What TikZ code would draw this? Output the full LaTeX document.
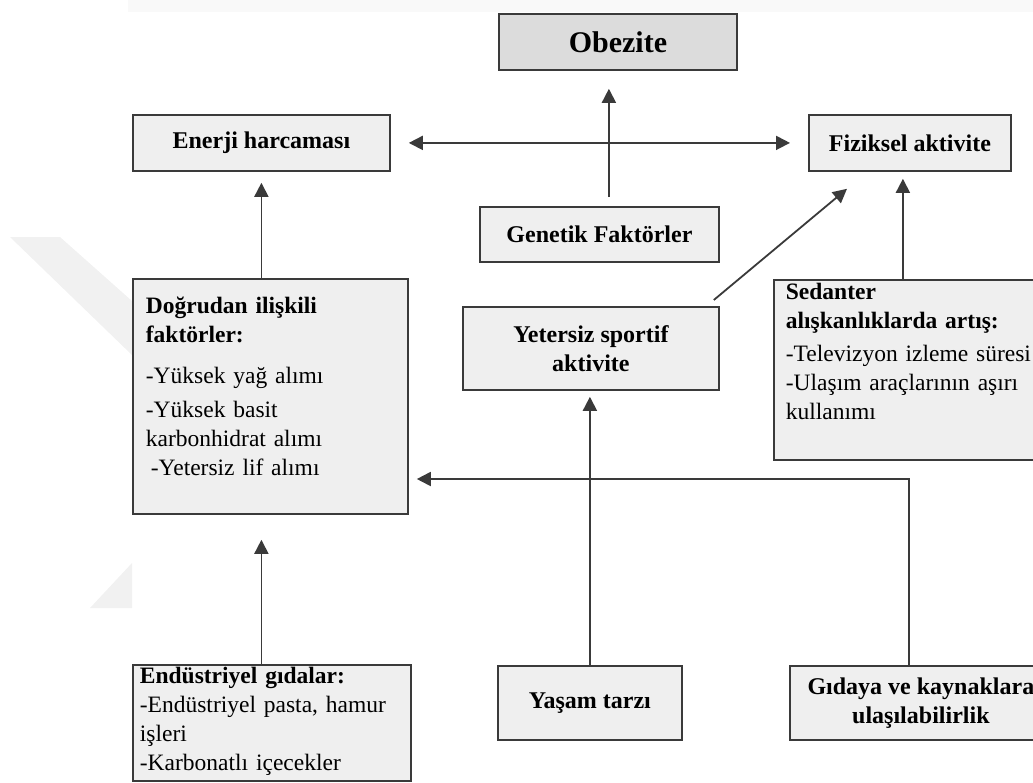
\documentclass[tikz,border=0pt]{standalone}
\usepackage{fontspec}
\setmainfont{Liberation Serif}
\usetikzlibrary{arrows.meta}
\definecolor{boxfill}{HTML}{EFEFEF}
\definecolor{topfill}{HTML}{DCDCDC}
\definecolor{linegray}{HTML}{3A3A3A}
\definecolor{markgray}{HTML}{F1F1F1}

\begin{document}
\begin{tikzpicture}[
            x=1pt,
            y=-1pt,
            box/.style={draw=linegray, line width=1.8pt, fill=boxfill, anchor=north west, align=center, text=black, font=\fontsize{24}{29}\selectfont\bfseries},
            listbox/.style={box, align=left, inner ysep=0pt, font=\fontsize{23.5}{29}\selectfont},
            arr/.style={draw=linegray, line width=1.8pt, >={Triangle[length=14pt,width=14pt]}}
        ]
        \useasboundingbox (0,0) rectangle (1033,782);
        \fill[gray!5] (128,0) rectangle (1033,12);
        \fill[markgray] (10,237) -- (60,237) -- (132,301) -- (132,355) -- cycle;
        \fill[markgray] (132,563) -- (90,608) -- (132,608) -- cycle;

        \node[box, fill=topfill, minimum width=238pt, minimum height=56pt, font=\fontsize{30}{36}\selectfont\bfseries] (obezite) at (498,13) {Obezite};
        \node[box, minimum width=257pt, minimum height=56pt] (enerji) at (132,114) {Enerji harcaması};
        \node[box, minimum width=202pt, minimum height=56pt] (fiziksel) at (808,114) {Fiziksel aktivite};
        \node[box, minimum width=239pt, minimum height=55pt] (genetik) at (479,206) {Genetik Faktörler};
        \node[box, minimum width=256pt, minimum height=83pt] (yetersiz) at (462,306) {Yetersiz sportif\\aktivite};
        \node[box, minimum width=184pt, minimum height=74pt] (yasam) at (497,665) {Yaşam tarzı};
        \node[box, minimum width=262pt, minimum height=74pt] (gidaya) at (789,665) {Gıdaya ve kaynaklara\\ulaşılabilirlik};

        \node[listbox, inner xsep=13pt, text width=249pt, text height=35pt, text depth=200pt] (dogrudan) at (132,278)
            {\textbf{Doğrudan ilişkili}\\\textbf{faktörler:}\\[12pt]-Yüksek yağ alımı\\[5pt]-Yüksek basit\\karbonhidrat alımı\\\hspace*{5pt}-Yetersiz lif alımı};
        \node[listbox, inner xsep=12pt, text width=266pt, text height=20pt, text depth=160pt] (sedanter) at (773,279)
            {\textbf{Sedanter}\\\textbf{alışkanlıklarda artış:}\\[4pt]-Televizyon izleme süresi\\-Ulaşım araçlarının aşırı\\kullanımı};
        \node[listbox, inner xsep=7pt, text width=264pt, text height=19pt, text depth=97pt] (endustriyel) at (132,664)
            {\textbf{Endüstriyel gıdalar:}\\-Endüstriyel pasta, hamur\\işleri\\-Karbonatlı içecekler};

        \coordinate (fizin) at ([xshift=-7pt,yshift=-7pt]fiziksel.south);
        \coordinate (gbend) at (909,479);

        \draw[arr, <->, shorten <=18pt, shorten >=18pt] (enerji.east) -- (fiziksel.west);
        \draw[arr, ->] ([xshift=9.5pt,yshift=9pt]genetik.north) -- ([xshift=-9pt,yshift=-18pt]obezite.south);
        \draw[arr, ->] (dogrudan.north -| enerji.south) -- ([yshift=-11pt]enerji.south);
        \draw[arr, ->] ([shift={(-6pt,6pt)}]yetersiz.north east) -- ([shift={(39pt,-17pt)}]fiziksel.south west);
        \draw[arr, ->] (sedanter.north -| fizin) -- (fizin);
        \draw[arr, ->, shorten >=6pt] (yasam.north) -- (yasam.north |- yetersiz.south);
        \draw[arr, ->, shorten >=8pt] (gidaya.north -| gbend) -- (gbend) -- (gbend -| dogrudan.east);
        \draw[arr, ->, shorten >=25pt] (endustriyel.north -| enerji.south) -- (dogrudan.south -| enerji.south);
    \end{tikzpicture}
\end{document}
